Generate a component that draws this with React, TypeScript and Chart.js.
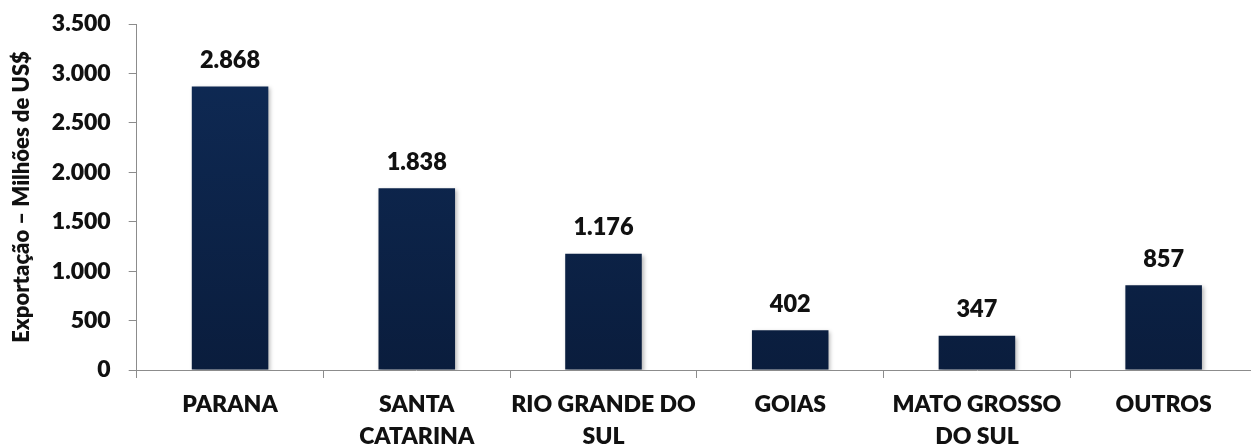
import React, { useEffect, useRef } from "react";
import { Chart, registerables } from "chart.js";

Chart.register(...registerables);

const categories: (string | string[])[] = [
  "PARANA",
  ["SANTA", "CATARINA"],
  ["RIO GRANDE DO", "SUL"],
  "GOIAS",
  ["MATO GROSSO", "DO SUL"],
  "OUTROS",
];
const exportValues = [2868, 1838, 1176, 402, 347, 857];
const yTitle = "Exportação – Milhões de US$";
const yMin = 0;
const yMax = 3500;
const yStep = 500;

const FONT = "Lato, 'Open Sans', sans-serif";
const W = 800;

function fmt(v: number): string {
  const s = String(Math.round(v));
  return s.replace(/\B(?=(\d{3})+(?!\d))/g, ".");
}

const labelPlugin = {
  id: "valueLabels",
  beforeDatasetDraw(chart: any) {
    const ctx = chart.ctx;
    ctx.save();
    ctx.shadowColor = "rgba(0,0,0,0.28)";
    ctx.shadowBlur = 4;
    ctx.shadowOffsetX = 2;
    ctx.shadowOffsetY = 2;
  },
  afterDatasetDraw(chart: any) {
    chart.ctx.restore();
  },
  afterDatasetsDraw(chart: any) {
    const ctx = chart.ctx;
    const meta = chart.getDatasetMeta(0);
    ctx.save();
    ctx.fillStyle = "#111111";
    ctx.font = `${W} 23.5px ${FONT}`;
    ctx.textAlign = "center";
    ctx.textBaseline = "middle";
    meta.data.forEach((bar: any, i: number) => {
      ctx.fillText(fmt(exportValues[i]), bar.x, bar.y - 26);
    });
    ctx.restore();
  },
};

export default function App() {
  const canvasRef = useRef<HTMLCanvasElement>(null);

  useEffect(() => {
    const canvas = canvasRef.current;
    if (!canvas) return;
    const chart = new Chart(canvas, {
      type: "bar",
      data: {
        labels: categories as any,
        datasets: [
          {
            data: exportValues,
            backgroundColor: (c: any) => {
              const area = c.chart.chartArea;
              if (!area) return "#0d2750";
              const g = c.chart.ctx.createLinearGradient(0, area.top, 0, area.bottom);
              g.addColorStop(0, "#0f2b57");
              g.addColorStop(1, "#0a1d3d");
              return g;
            },
            borderWidth: 0,
            categoryPercentage: 1,
            barPercentage: 0.41,
          },
        ],
      },
      options: {
        responsive: false,
        animation: false,
        devicePixelRatio: 1,
        layout: { padding: { top: 24, right: 0, left: 0, bottom: 0 } },
        plugins: {
          legend: { display: false },
          tooltip: { enabled: false },
        },
        scales: {
          x: {
            afterFit: (s: any) => {
              s.height = 76;
              s.paddingLeft = 0;
              s.paddingRight = 0;
            },
            grid: {
              offset: true,
              drawOnChartArea: false,
              drawTicks: true,
              tickLength: 8,
              color: "#8c8c8c",
            },
            border: { color: "#8c8c8c", width: 1 },
            ticks: {
              color: "#111111",
              padding: 11,
              maxRotation: 0,
              autoSkip: false,
              font: { family: FONT, size: 23, weight: W as any, lineHeight: 1.39 },
            },
          },
          y: {
            min: yMin,
            max: yMax,
            afterFit: (s: any) => {
              s.width = 136.7;
              s.paddingTop = 0;
              s.paddingBottom = 0;
            },
            grid: {
              drawOnChartArea: false,
              drawTicks: true,
              tickLength: 8,
              color: "#8c8c8c",
            },
            border: { color: "#8c8c8c", width: 1 },
            ticks: {
              stepSize: yStep,
              color: "#111111",
              padding: 18,
              font: { family: FONT, size: 23, weight: W as any },
              callback: (v: any) => fmt(Number(v)),
            },
            title: {
              display: true,
              text: yTitle,
              color: "#111111",
              font: { family: FONT, size: 22, weight: W as any },
              padding: { top: 9, bottom: 0 },
            },
          },
        },
      },
      plugins: [labelPlugin],
    });
    return () => chart.destroy();
  }, []);

  return (
    <div
      style={{
        position: "absolute",
        left: 0,
        top: 0,
        width: 1251,
        height: 446,
        overflow: "hidden",
        background: "#ffffff",
      }}
    >
      <canvas ref={canvasRef} width={1257} height={446} style={{ display: "block" }} />
    </div>
  );
}
